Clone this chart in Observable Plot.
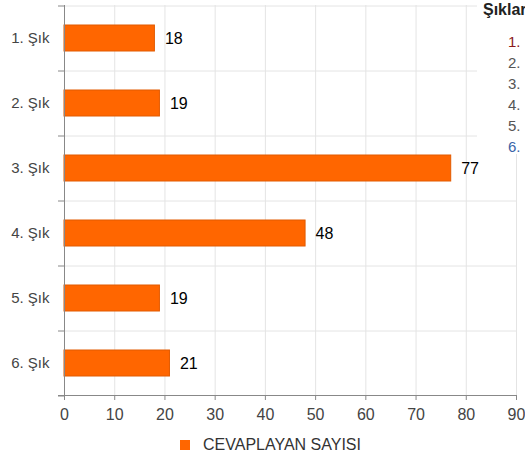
<!DOCTYPE html>
<html>
<head>
<meta charset="utf-8">
<script src="https://cdn.jsdelivr.net/npm/d3@7"></script>
<script src="https://cdn.jsdelivr.net/npm/@observablehq/plot@0.6"></script>
<style>
  html, body { margin: 0; padding: 0; background: #fff; overflow: hidden; }
  #wrap { position: relative; width: 525px; height: 461px; font-family: "Liberation Sans", Arial, sans-serif; overflow: hidden; }
  #side { position: absolute; left: 477px; top: 0; width: 60px; height: 154px; background: #fff; }
  #side .title { position: absolute; left: 6px; top: 1px; font-weight: bold; font-size: 16px; color: #222; white-space: nowrap; }
  #side .item { position: absolute; left: 31px; font-size: 15px; color: #555; white-space: nowrap; }
  #legend { position: absolute; left: 180px; top: 436px; font-size: 16px; color: #333; white-space: nowrap; }
  #legend .sw { display: inline-block; width: 10px; height: 10px; background: #ff6600; vertical-align: middle; margin-right: 13px; position: relative; top: -1px; }
</style>
</head>
<body>
<div id="wrap"></div>
<script>
const categories = ["1. Şık", "2. Şık", "3. Şık", "4. Şık", "5. Şık", "6. Şık"];
const values = [18, 19, 77, 48, 19, 21];
const xTicks = [0, 10, 20, 30, 40, 50, 60, 70, 80, 90];
const seriesName = "CEVAPLAYAN SAYISI";
const sideTitle = "Şıklar";
const sideItems = ["1.", "2.", "3.", "4.", "5.", "6."];
const sideColors = ["#8b1a1a", "#555", "#555", "#555", "#555", "#3a64a8"];

const data = categories.map((c, i) => ({cat: c, value: values[i]}));
const lastCat = [categories[categories.length - 1]];

const chart = Plot.plot({
  width: 525,
  height: 461,
  marginLeft: 64,
  marginRight: 9,
  marginTop: 5,
  marginBottom: 66,
  style: {fontFamily: "Liberation Sans, Arial, sans-serif", fontSize: "14px", background: "#fff"},
  x: {domain: [0, 90], ticks: xTicks},
  y: {domain: categories, paddingInner: 0.6, paddingOuter: 0.3},
  marks: [
    Plot.gridX(xTicks, {stroke: "#e4e4e4", strokeOpacity: 1}),
    Plot.ruleY(categories, {y: d => d, dy: -32.5, stroke: "#e4e4e4"}),
    Plot.ruleY(categories, {y: d => d, dy: -32.5, x1: 0, x2: 0, insetLeft: -6, stroke: "#888"}),
    Plot.ruleY(lastCat, {y: d => d, dy: 32.5, x1: 0, x2: 0, insetLeft: -6, stroke: "#888"}),
    Plot.barX(data, {x: "value", y: "cat", fill: "#ff6600", stroke: "#e25a00", strokeWidth: 1}),
    Plot.text(data, {x: "value", y: "cat", text: d => String(d.value), dx: 10, textAnchor: "start", fill: "#000", fontSize: 16}),
    Plot.axisY({tickSize: 0, tickPadding: 15, fontSize: 15, color: "#444", label: null}),
    Plot.axisX({ticks: xTicks, tickSize: 5, tickPadding: 8, fontSize: 16, color: "#444", stroke: "#888", label: null}),
    Plot.frame({anchor: "left", stroke: "#888"}),
    Plot.frame({anchor: "bottom", stroke: "#888", insetLeft: -6})
  ]
});

const wrap = document.getElementById("wrap");
wrap.appendChild(chart);

const side = document.createElement("div");
side.id = "side";
const t = document.createElement("div");
t.className = "title";
t.textContent = sideTitle;
side.appendChild(t);
sideItems.forEach((s, i) => {
  const d = document.createElement("div");
  d.className = "item";
  d.style.top = (33 + i * 21) + "px";
  d.style.color = sideColors[i];
  d.textContent = s;
  side.appendChild(d);
});
wrap.appendChild(side);

const lg = document.createElement("div");
lg.id = "legend";
lg.innerHTML = '<span class="sw"></span>';
lg.appendChild(document.createTextNode(seriesName));
wrap.appendChild(lg);
</script>
</body>
</html>
